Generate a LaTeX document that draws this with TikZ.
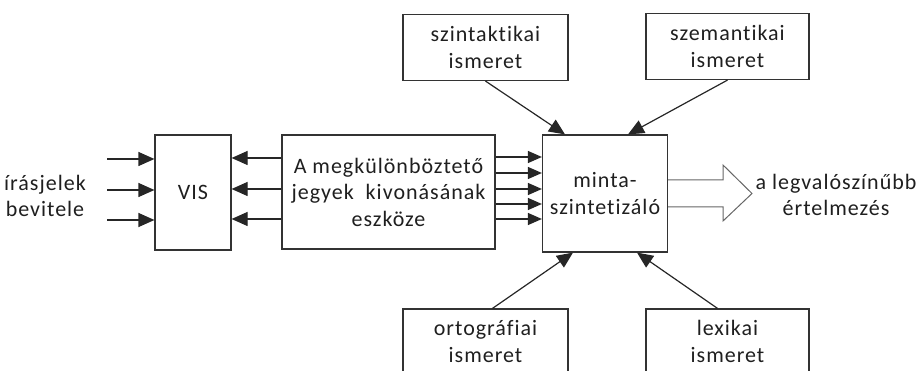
\documentclass[tikz,border=0pt]{standalone}
\usepackage{fontspec}
\setmainfont{Carlito}[LetterSpace=4.5,Ligatures=NoCommon]
\usetikzlibrary{arrows.meta,calc}
\begin{document}
\begin{tikzpicture}[x=1pt,y=-1pt,
  box/.style={draw=black!80,line width=1.2pt,rectangle,inner sep=0pt,align=center,text=black!88},
  lbl/.style={align=center,text=black!88,inner sep=0pt},
  conn/.style={draw=black!85,line width=1.2pt,-{Triangle[length=16pt,width=14pt]}},
  thinconn/.style={draw=black!85,line width=1.2pt,-{Triangle[length=14pt,width=12pt]}},
  hollow/.style={draw=black!60,line width=1pt,fill=white}]
\useasboundingbox (0,0) rectangle (922,371);
\clip (0,0) rectangle (922,371);
\fontsize{22}{26.5}\selectfont

% main chain of boxes
\node[box,minimum width=76pt,minimum height=115pt] (vis) at (193,192.5) {VIS};
\node[box,minimum width=213pt,minimum height=114pt] (feat) at (388.5,192)
  {A megkülönböztető\\jegyek\ \ kivonásának\\eszköze};
\node[box,minimum width=125pt,minimum height=117pt] (minta) at (605,193.5)
  {minta-\\szintetizáló};

% knowledge sources
\node[box,minimum width=165pt,minimum height=66pt] (szint) at (485.5,47.5) {szintaktikai\\ismeret};
\node[box,minimum width=163pt,minimum height=66pt] (szem) at (727.5,46.5) {szemantikai\\ismeret};
\node[box,minimum width=165pt,minimum height=65pt] (orto) at (485.5,341.5) {ortográfiai\\ismeret};
\node[box,minimum width=163pt,minimum height=65pt] (lexi) at (727.5,341.5) {lexikai\\ismeret};

% side labels
\node[lbl] (inp) at (45,196) {írásjelek\\bevitele};
\node[lbl] (outp) at (836,195) {a legvalószínűbb\\értelmezés};

% input arrows into VIS
\foreach \i/\y in {1/159,2/190,3/220}{
  \coordinate (in\i) at (107,\y);
  \draw[conn] (in\i) -- (vis.west |- in\i);
}
% feedback from the feature extractor back to VIS
\foreach \i/\y in {1/158,2/189,3/219}{
  \coordinate (fb\i) at (282,\y);
  \draw[conn] (feat.west |- fb\i) -- (vis.east |- fb\i);
}
% five feature lines into the synthesiser
\foreach \i/\y in {1/157,2/173,3/189,4/204,5/219}{
  \coordinate (ft\i) at (495,\y);
  \draw[thinconn] (feat.east |- ft\i) -- (minta.west |- ft\i);
}

% knowledge inputs
\draw[conn] (szint.south) -- ([xshift=-40pt]minta.north);
\draw[conn] (szem.south) -- ([xshift=23pt]minta.north);
\draw[conn] ([xshift=7pt]orto.north) -- ([xshift=-32pt]minta.south);
\draw[conn] ([xshift=-10pt]lexi.north) -- ([xshift=32pt]minta.south);

% broad output arrow
\draw[hollow] (minta.east |- 0,180) -- (723,180) -- (723,165) -- (752,193.5)
  -- (723,221) -- (723,207) -- (minta.east |- 0,207);
\end{tikzpicture}
\end{document}
